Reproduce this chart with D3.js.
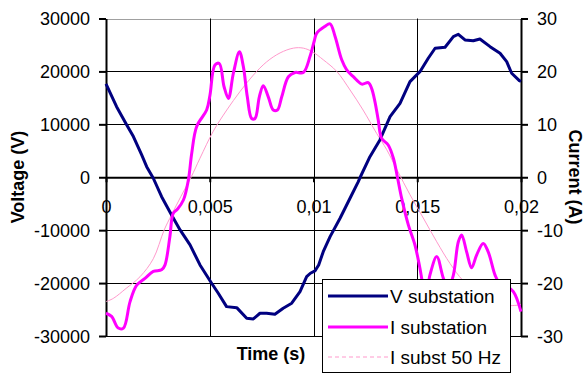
<!DOCTYPE html>
<html>
<head>
<meta charset="utf-8">
<script src="https://cdn.jsdelivr.net/npm/d3@7"></script>
<style>
  html, body { margin: 0; padding: 0; background: #fff; }
  svg { display: block; }
  text { font-family: Arial, "Liberation Sans", sans-serif; fill: #000; }
</style>
</head>
<body>
<svg id="chart" width="586" height="374"></svg>
<script>
// ---------- data ----------
const vTime = [0, 0.00051, 0.001, 0.00132, 0.00172, 0.00196, 0.00228, 0.00268, 0.00316, 0.00357, 0.00405, 0.00453, 0.00509, 0.00541, 0.00581, 0.0063, 0.00678, 0.0071, 0.00742, 0.00774, 0.00814, 0.00854, 0.00895, 0.00935, 0.00967, 0.00985, 0.01007, 0.01025, 0.01047, 0.0108, 0.01128, 0.01176, 0.01216, 0.01225, 0.01272, 0.0132, 0.01369, 0.01417, 0.01465, 0.01513, 0.01553, 0.01586, 0.01634, 0.01674, 0.01698, 0.0173, 0.0177, 0.01802, 0.01851, 0.01899, 0.01931, 0.01955, 0.01992, 0.02];
const vValues = [17630, 13340, 9880, 7680, 4210, 2000, -190, -3670, -7120, -9960, -12790, -16570, -20030, -21920, -24450, -24640, -26650, -26780, -25700, -25700, -25890, -24750, -23810, -21620, -18780, -18140, -17700, -16570, -14060, -11220, -7750, -3970, -830, 0, 3890, 7050, 11450, 13980, 18070, 19950, 22490, 24380, 24570, 26570, 27020, 25940, 25810, 26130, 24680, 23430, 21840, 19650, 18250, 18100];

const iTime = [0, 0.00027, 0.00059, 0.00084, 0.00116, 0.00148, 0.00188, 0.00228, 0.00268, 0.00284, 0.00308, 0.00324, 0.00345, 0.00373, 0.00397, 0.00413, 0.00437, 0.00485, 0.00501, 0.00525, 0.00546, 0.00569, 0.0059, 0.00614, 0.00643, 0.00662, 0.00681, 0.00702, 0.00718, 0.00739, 0.00758, 0.00782, 0.00806, 0.00826, 0.00847, 0.00879, 0.00911, 0.00951, 0.00983, 0.01004, 0.01015, 0.01055, 0.0108, 0.01104, 0.01136, 0.0116, 0.01192, 0.01233, 0.01264, 0.0128, 0.01296, 0.01312, 0.01328, 0.0136, 0.01385, 0.01404, 0.01425, 0.01457, 0.01489, 0.01513, 0.01529, 0.01545, 0.01561, 0.01594, 0.01626, 0.0165, 0.01674, 0.01698, 0.01714, 0.01738, 0.01762, 0.01786, 0.01818, 0.01842, 0.01875, 0.01891, 0.01925, 0.01963, 0.02];
const iValues = [-25.7, -26.3, -28.5, -28.5, -23.5, -20.4, -19.1, -17.8, -17.5, -16.6, -11.2, -6.8, -6.0, -4.3, -0.5, 4.5, 9.6, 12.7, 15.5, 21.2, 21.5, 17.1, 14.9, 19.7, 23.7, 20.9, 15.2, 11.1, 11.1, 15.2, 17.3, 15.2, 12.7, 12.7, 15.2, 19.0, 19.8, 19.8, 22.8, 25.8, 27.2, 28.5, 29.0, 26.6, 22.2, 20.3, 19.0, 17.6, 17.9, 16.8, 14.3, 10.8, 7.4, 6.1, 3.6, 0.1, -4.0, -9.0, -12.8, -17.2, -20.4, -21.5, -18.5, -15.0, -19.1, -21.0, -18.5, -12.2, -10.9, -14.1, -17.1, -14.7, -12.5, -14.1, -18.5, -19.7, -20.5, -21.6, -25.4];

const i50Time = [0, 0.00035, 0.00097, 0.00164, 0.00228, 0.0028, 0.00316, 0.0036, 0.0041, 0.00453, 0.00517, 0.00582, 0.00646, 0.0071, 0.00774, 0.00839, 0.00903, 0.00951, 0.00995, 0.01047, 0.01112, 0.01176, 0.01239, 0.01304, 0.01353, 0.01405, 0.01465, 0.01529, 0.01594, 0.01658, 0.0172, 0.0179, 0.0186, 0.0193, 0.01995, 0.02];
const i50Values = [-23.5, -22.9, -21.0, -18.8, -15.4, -10.0, -7.1, -3.7, 0.0, 3.6, 8.7, 12.7, 16.2, 19.3, 21.8, 23.5, 24.4, 24.4, 23.7, 22.2, 20.0, 16.5, 12.7, 8.3, 5.2, 1.2, -3.3, -7.7, -12.2, -16.3, -19.5, -21.8, -23.3, -24.2, -24.1, -24.0];

const xTicks = [0, 0.005, 0.01, 0.015, 0.02];
const vTicks = [-30000, -20000, -10000, 0, 10000, 20000, 30000];
const iTicks = [-30, -20, -10, 0, 10, 20, 30];
const seriesNames = ["V substation", "I substation", "I subst 50 Hz"];
const seriesColors = ["#000080", "#ff00ff", "#ff99cc"];

// ---------- layout ----------
const svg = d3.select("#chart");
const L = 106, R = 521, T = 18.5, B = 336;
const x = d3.scaleLinear().domain([0, 0.02]).range([L, R]);
const yV = d3.scaleLinear().domain([-30000, 30000]).range([B, T]);
const yI = d3.scaleLinear().domain([-30, 30]).range([B, T]);
const px = v => Math.round(v) + 0.5;

// gridlines
const grid = svg.append("g");
vTicks.forEach(v => {
  grid.append("line")
    .attr("x1", L).attr("x2", R)
    .attr("y1", px(yV(v))).attr("y2", px(yV(v)))
    .attr("stroke", v === 30000 ? "#a0a0a0" : "#000")
    .attr("stroke-width", 1);
});
xTicks.filter(t => t > 0 && t < 0.02).forEach(t => {
  grid.append("line")
    .attr("x1", px(x(t))).attr("x2", px(x(t)))
    .attr("y1", T).attr("y2", B)
    .attr("stroke", "#000").attr("stroke-width", 1);
});

// axes
const fmtX = d => String(d).replace(".", ",");
const xAxis = svg.append("g")
  .attr("transform", `translate(0,${yV(0)})`)
  .call(d3.axisBottom(x).tickValues(xTicks).tickSize(5).tickSizeOuter(0).tickPadding(18).tickFormat(fmtX));
const lAxis = svg.append("g")
  .attr("transform", `translate(${L},0)`)
  .call(d3.axisLeft(yV).tickValues(vTicks).tickSize(7).tickSizeOuter(0).tickPadding(9).tickFormat(d => String(d)));
const rAxis = svg.append("g")
  .attr("transform", `translate(${R},0)`)
  .call(d3.axisRight(yI).tickValues(iTicks).tickSize(7).tickSizeOuter(0).tickPadding(9).tickFormat(d => String(d)));

[xAxis, lAxis, rAxis].forEach(g => {
  g.select(".domain").attr("stroke", "#000").attr("stroke-width", 2);
  g.selectAll(".tick line").attr("stroke", "#000").attr("stroke-width", 2);
  g.selectAll(".tick text").style("font-size", "18px").attr("fill", "#000")
    .style("font-family", 'Arial, "Liberation Sans", sans-serif');
});
lAxis.selectAll(".tick text").attr("dy", "0.35em");
rAxis.selectAll(".tick text").attr("dy", "0.35em");

// series
const lineV = d3.line().x((d, i) => x(vTime[i])).y(d => yV(d));
const lineI = d3.line().x((d, i) => x(iTime[i])).y(d => yI(d)).curve(d3.curveCatmullRom.alpha(0.5));
const lineI50 = d3.line().x((d, i) => x(i50Time[i])).y(d => yI(d)).curve(d3.curveCatmullRom.alpha(0.5));

svg.append("path").datum(i50Values).attr("d", lineI50)
  .attr("fill", "none").attr("stroke", seriesColors[2]).attr("stroke-width", 1);
svg.append("path").datum(vValues).attr("d", lineV)
  .attr("fill", "none").attr("stroke", seriesColors[0]).attr("stroke-width", 3).attr("stroke-linejoin", "round");
svg.append("path").datum(iValues).attr("d", lineI)
  .attr("fill", "none").attr("stroke", seriesColors[1]).attr("stroke-width", 3).attr("stroke-linejoin", "round");

// axis titles
svg.append("text").attr("x", 271).attr("y", 360).attr("text-anchor", "middle")
  .style("font-size", "18px").style("font-weight", "bold").text("Time (s)");
svg.append("text").attr("transform", "translate(24,177) rotate(-90)").attr("text-anchor", "middle")
  .style("font-size", "18px").style("font-weight", "bold").text("Voltage (V)");
svg.append("text").attr("transform", "translate(569,177) rotate(90)").attr("text-anchor", "middle")
  .style("font-size", "18px").style("font-weight", "bold").text("Current (A)");

// legend
const lg = svg.append("g");
lg.append("rect").attr("x", 322.5).attr("y", 279.5).attr("width", 188).attr("height", 93)
  .attr("fill", "#fff").attr("stroke", "#000").attr("stroke-width", 1);
const rowY = [296, 327, 357];
seriesNames.forEach((name, i) => {
  lg.append("line").attr("x1", 328).attr("x2", 388).attr("y1", rowY[i]).attr("y2", rowY[i])
    .attr("stroke", seriesColors[i]).attr("stroke-width", i === 2 ? 1 : 3)
    .attr("stroke-dasharray", i === 2 ? "4,3" : null);
  lg.append("text").attr("x", 390).attr("y", rowY[i] + 6.5)
    .style("font-size", "19px").text(name);
});
</script>
</body>
</html>
